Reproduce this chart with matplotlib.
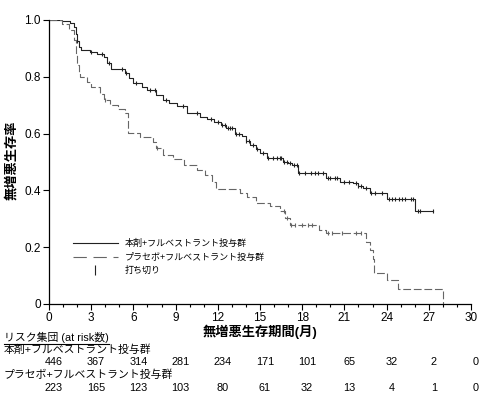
import numpy as np
import matplotlib
matplotlib.use("Agg")
import matplotlib.pyplot as plt
from matplotlib.lines import Line2D
from matplotlib.transforms import blended_transform_factory

plt.rcParams['font.family'] = ['Liberation Sans', 'Noto Sans CJK JP']

# Kaplan-Meier steps (month, survival after step)
drug_t = [0, 0.9, 1.5, 1.8, 1.9, 2.0, 2.1, 2.3, 2.9, 3.4, 3.9, 4.1, 4.4, 5.4, 5.7, 6.0, 6.6,
          7.0, 7.6, 8.1, 8.5, 9.1, 9.8, 10.7, 11.2, 11.7, 12.2, 12.6, 13.2, 13.7, 14.0, 14.3,
          14.7, 15.0, 15.5, 16.6, 17.0, 17.3, 17.7, 19.7, 20.7, 21.6, 22.0, 22.3, 22.8, 24.05, 26.0]
drug_s = [1.0, 0.995, 0.99, 0.975, 0.95, 0.925, 0.905, 0.894, 0.888, 0.88, 0.871, 0.85, 0.826,
          0.815, 0.795, 0.777, 0.765, 0.754, 0.736, 0.718, 0.708, 0.697, 0.672, 0.66, 0.65, 0.641,
          0.63, 0.619, 0.60, 0.59, 0.575, 0.56, 0.545, 0.531, 0.514, 0.501, 0.495, 0.489, 0.46,
          0.443, 0.431, 0.425, 0.415, 0.407, 0.392, 0.37, 0.327]
drug_end = 27.3
drug_cens = [2.0, 3.0, 3.8, 4.3, 5.2, 5.5, 6.2, 7.2, 7.5, 8.3, 9.5, 10.5, 11.5, 12.0, 12.3, 12.5,
             12.7, 12.9, 13.0, 13.3, 13.5, 14.0, 14.2, 14.5, 14.8, 15.2, 15.6, 15.9, 16.2, 16.4,
             16.5, 16.7, 16.9, 17.1, 17.4, 17.6, 17.8, 18.2, 18.6, 18.9, 19.1, 19.5, 19.8, 20.0,
             20.3, 20.5, 21.0, 21.3, 21.8, 22.0, 22.2, 22.5, 22.9, 23.2, 23.7, 24.2, 24.4, 24.6,
             24.9, 25.1, 25.3, 25.7, 25.9, 26.2, 26.4, 27.3]

pbo_t = [0, 0.9, 1.4, 1.8, 1.9, 2.0, 2.1, 2.2, 2.7, 3.0, 3.6, 3.9, 4.35, 4.9, 5.4, 5.65, 6.5,
         7.4, 7.6, 8.1, 8.8, 9.6, 10.5, 11.1, 11.6, 11.9, 13.6, 14.1, 14.75, 15.7, 16.4, 16.8,
         17.1, 19.2, 19.7, 22.5, 22.8, 23.0, 23.1, 24.0, 24.8, 28.0]
pbo_s = [1.0, 0.985, 0.965, 0.93, 0.88, 0.84, 0.81, 0.80, 0.783, 0.763, 0.74, 0.718, 0.70, 0.686,
         0.671, 0.601, 0.589, 0.57, 0.548, 0.525, 0.51, 0.49, 0.472, 0.454, 0.431, 0.405, 0.392,
         0.378, 0.355, 0.345, 0.327, 0.302, 0.278, 0.261, 0.249, 0.219, 0.19, 0.16, 0.11, 0.085,
         0.052, 0.0]
pbo_end = 28.0
pbo_cens = [4.0, 7.7, 16.7, 16.9, 17.2, 17.5, 18.0, 18.4, 18.7, 19.8, 20.1, 20.8, 21.8, 22.2]

risk_times = [0, 3, 6, 9, 12, 15, 18, 21, 24, 27, 30]
risk_drug = [446, 367, 314, 281, 234, 171, 101, 65, 32, 2, 0]
risk_pbo = [223, 165, 123, 103, 80, 61, 32, 13, 4, 1, 0]

lab_drug = '本剤+フルベストラント投与群'
lab_pbo = 'プラセボ+フルベストラント投与群'
lab_cens = '打ち切り'


def km_at(times, surv, x):
    idx = np.searchsorted(times, x, side='right') - 1
    return np.asarray(surv)[idx]


fig = plt.figure(figsize=(4.81, 3.97), dpi=100)
ax = fig.add_axes([49 / 481, 1 - 304 / 397, 422 / 481, 284 / 397])

c_drug = '#222222'
c_pbo = '#666666'
ax.step(drug_t + [drug_end], drug_s + [drug_s[-1]], where='post', color=c_drug, lw=0.8)
ax.step(pbo_t + [pbo_end], pbo_s + [pbo_s[-1]], where='post', color=c_pbo, lw=0.8,
        linestyle=(0, (7, 2.5)))
ax.plot(drug_cens, km_at(drug_t, drug_s, drug_cens), ls='none', marker='|',
        color=c_drug, ms=3.5, mew=0.8)
ax.plot(pbo_cens, km_at(pbo_t, pbo_s, pbo_cens), ls='none', marker='|',
        color=c_pbo, ms=3.5, mew=0.8)

ax.set_xlim(0, 30)
ax.set_ylim(0, 1.0)
ax.set_xticks(risk_times)
ax.set_xticks(np.arange(0, 31, 1), minor=True)
ax.set_yticks([0, 0.2, 0.4, 0.6, 0.8, 1.0])
ax.set_yticklabels(['0', '0.2', '0.4', '0.6', '0.8', '1.0'])
ax.tick_params(axis='both', labelsize=8.5, direction='out', length=4, width=0.8, pad=2)
ax.tick_params(axis='x', which='minor', direction='out', length=2.5, width=0.8)
for s in ['top', 'right']:
    ax.spines[s].set_visible(False)
for s in ['left', 'bottom']:
    ax.spines[s].set_linewidth(0.9)
fig.text(12 / 481, 1 - 160 / 397, '無増悪生存率', fontsize=9.5, fontweight='bold',
         rotation=90, ha='center', va='center')
ax.set_xlabel('無増悪生存期間(月)', fontsize=9.5, fontweight='bold', labelpad=0)

handles = [Line2D([], [], color=c_drug, lw=0.8),
           Line2D([], [], color=c_pbo, lw=0.8, linestyle=(0, (12, 6))),
           Line2D([], [], ls='none', marker='|', color=c_drug, ms=7, mew=0.8)]
ax.legend(handles, [lab_drug, lab_pbo, lab_cens], loc='lower left',
          bbox_to_anchor=(0.045, 0.085), frameon=False, fontsize=6.5,
          handlelength=5.0, handletextpad=0.8, labelspacing=0.5, borderpad=0)

# risk table
tr = blended_transform_factory(ax.transData, fig.transFigure)
hdr = fig.text(4 / 481, 1 - 337 / 397, 'リスク集団 (at risk数)', fontsize=7.8, va='center')
fig.text(4 / 481, 1 - 350 / 397, lab_drug, fontsize=7.8, va='center')
fig.text(4 / 481, 1 - 375 / 397, lab_pbo, fontsize=7.8, va='center')
for t, n1, n2 in zip(risk_times, risk_drug, risk_pbo):
    ax.text(t + 0.35, 1 - 362 / 397, str(n1), transform=tr, ha='center', va='center',
            fontsize=7.8, clip_on=False)
    ax.text(t + 0.35, 1 - 388 / 397, str(n2), transform=tr, ha='center', va='center',
            fontsize=7.8, clip_on=False)

fig.canvas.draw()
bb = hdr.get_window_extent().transformed(fig.transFigure.inverted())
fig.add_artist(Line2D([bb.x0, bb.x1], [bb.y0 - 0.004, bb.y0 - 0.004], color='black', lw=0.8,
                      transform=fig.transFigure))

fig.savefig('out.png', dpi=100)
